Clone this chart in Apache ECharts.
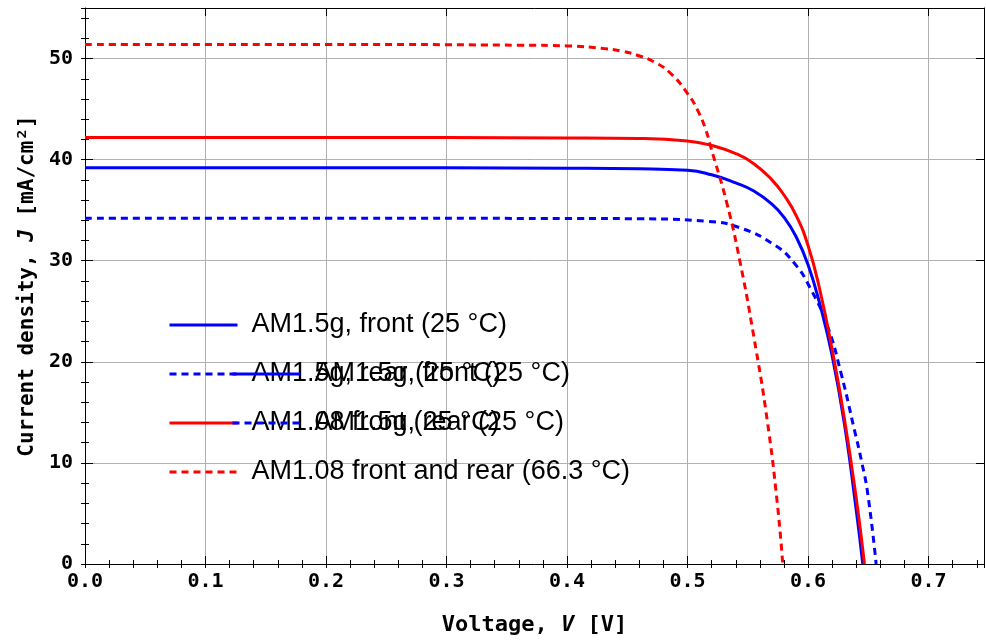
<!DOCTYPE html>
<html>
<head>
<meta charset="utf-8">
<script src="https://cdn.jsdelivr.net/npm/echarts@6/dist/echarts.min.js"></script>
<style>html,body{margin:0;padding:0;background:#fff}#c{width:986px;height:641px}</style>
</head>
<body>
<div id="c"></div>
<script>
// ---- data ----
const seriesNames = [
  'AM1.5g, front (25 °C)',
  'AM1.5g, rear (25 °C)',
  'AM1.08 front (25 °C)',
  'AM1.08 front and rear (66.3 °C)'
];
const vFront15 = [0, 0.2, 0.4, 0.46, 0.5, 0.52, 0.54, 0.555, 0.57, 0.58, 0.59, 0.6, 0.61, 0.62, 0.63, 0.64, 0.6454];
const jFront15 = [39.2, 39.2, 39.15, 39.1, 38.95, 38.5, 37.7, 36.9, 35.6, 34.3, 32.4, 29.6, 25.6, 20.6, 14.0, 5.3, 0];
const vRear15 = [0, 0.2, 0.4, 0.46, 0.5159, 0.5437, 0.5716, 0.5883, 0.6022, 0.6162, 0.6273, 0.6384, 0.6445, 0.6496, 0.6565];
const jRear15 = [34.2, 34.2, 34.18, 34.15, 33.9, 33.25, 31.6, 29.8, 27.2, 23.5, 18.9, 13.3, 10.1, 6.9, 0];
const vFront108 = [0, 0.2, 0.4, 0.46, 0.5, 0.52, 0.54, 0.555, 0.57, 0.58, 0.59, 0.6, 0.61, 0.62, 0.63, 0.64, 0.6468];
const jFront108 = [42.2, 42.2, 42.15, 42.1, 41.85, 41.4, 40.6, 39.6, 38.0, 36.5, 34.5, 31.5, 27.0, 21.2, 14.5, 6.5, 0];
const vHot108 = [0, 0.2, 0.3611, 0.4, 0.4306, 0.4444, 0.4583, 0.4722, 0.4861, 0.5, 0.5083, 0.5153, 0.5187, 0.5326, 0.5437, 0.5549, 0.566, 0.5744, 0.579];
const jHot108 = [51.4, 51.4, 51.32, 51.25, 50.99, 50.76, 50.33, 49.67, 48.52, 46.54, 44.9, 42.9, 41.48, 35.7, 29.8, 22.55, 14.3, 6.1, 0];
const xTicks = [0.0, 0.1, 0.2, 0.3, 0.4, 0.5, 0.6, 0.7];
const yTicks = [0, 10, 20, 30, 40, 50];

// ---- chart ----
const zip = (v, j) => v.map((x, i) => [x, j[i]]);
const X_MAX = 0.746, Y_MAX = 55;
const mono = '"DejaVu Sans Mono", monospace';
const lineDefs = [
  { v: vFront15, j: jFront15, color: '#0000ff', type: 'solid' },
  { v: vRear15, j: jRear15, color: '#0000ff', type: [7, 5] },
  { v: vFront108, j: jFront108, color: '#ff0000', type: 'solid' },
  { v: vHot108, j: jHot108, color: '#ff0000', type: [7, 5] }
];
const series = lineDefs.map((d, i) => ({
  name: seriesNames[i],
  type: 'line',
  xAxisIndex: 0, yAxisIndex: 0,
  data: zip(d.v, d.j),
  smooth: 0.5,
  symbol: 'none',
  color: d.color,
  lineStyle: { color: d.color, width: 3, type: d.type },
  z: 5
}));

const isTick = (val, arr) => arr.some(t => Math.abs(t - val) < 1e-6);
const baseAxis = {
  type: 'value', min: 0,
  axisLine: { show: true, onZero: false, lineStyle: { color: '#000', width: 1 } },
  axisLabel: { show: false },
  splitLine: { show: false },
  axisTick: { show: true, inside: true, length: 8, lineStyle: { color: '#000', width: 1 } }
};
const xMajor = (pos, labels, grid) => Object.assign({}, baseAxis, {
  position: pos, max: X_MAX, interval: 0.1,
  axisLabel: labels ? {
    show: true, margin: 8, color: '#000', fontFamily: mono, fontSize: 20, fontWeight: 'bold',
    showMaxLabel: false,
    formatter: v => isTick(v, xTicks) ? v.toFixed(1) : ''
  } : { show: false },
  splitLine: { show: grid, lineStyle: { color: '#b0b0b0', width: 1 } }
});
const xMinor = pos => Object.assign({}, baseAxis, {
  position: pos, max: X_MAX, interval: 0.02,
  axisLine: { show: false },
  axisTick: { show: true, inside: true, length: 4, lineStyle: { color: '#000', width: 1 } }
});
const yMajor = (pos, labels, grid) => Object.assign({}, baseAxis, {
  position: pos, max: Y_MAX, interval: 10,
  axisLabel: labels ? {
    show: true, margin: 12, color: '#000', fontFamily: mono, fontSize: 20, fontWeight: 'bold',
    showMaxLabel: false,
    formatter: v => isTick(v, yTicks) ? String(v) : ''
  } : { show: false },
  splitLine: { show: grid, lineStyle: { color: '#b0b0b0', width: 1 } }
});
const yMinor = pos => Object.assign({}, baseAxis, {
  position: pos, max: Y_MAX, interval: 2,
  axisLine: { show: false },
  axisTick: { show: true, inside: true, length: 4, lineStyle: { color: '#000', width: 1 } }
});

const xAxes = [xMajor('bottom', true, true), xMinor('bottom'), xMajor('top', false, false), xMinor('top')];
xAxes[0].name = 'Voltage, {i|V} [V]';
xAxes[0].nameLocation = 'middle';
xAxes[0].nameGap = 50;
xAxes[0].nameTextStyle = {
  fontFamily: mono, fontSize: 22, fontWeight: 'bold', color: '#000',
  rich: { i: { fontFamily: mono, fontSize: 22, fontWeight: 'bold', fontStyle: 'italic', color: '#000' } }
};
const yAxes = [yMajor('left', true, true), yMinor('left'), yMajor('right', false, false), yMinor('right')];
yAxes[0].name = 'Current density, {i|J} [mA/cm²]';
yAxes[0].nameLocation = 'middle';
yAxes[0].nameGap = 47;
yAxes[0].nameTextStyle = {
  fontFamily: mono, fontSize: 21, fontWeight: 'bold', color: '#000',
  rich: { i: { fontFamily: mono, fontSize: 21, fontWeight: 'bold', fontStyle: 'italic', color: '#000' } }
};

const legendBase = {
  orient: 'vertical', padding: 0, itemWidth: 68, itemHeight: 14, itemGap: 19,
  selectedMode: false,
  lineStyle: { width: 3 },
  itemStyle: { opacity: 0 },
  textStyle: { fontFamily: '"Liberation Sans", Arial, sans-serif', fontSize: 27, color: '#000', lineHeight: 30, padding: [0, 0, 0, 9] }
};

const option = {
  backgroundColor: '#fff',
  animation: false,
  grid: { left: 85, right: 2, top: 8, bottom: 77, containLabel: false, outerBoundsMode: 'none' },
  xAxis: xAxes,
  yAxis: yAxes,
  legend: [
    Object.assign({}, legendBase, { left: 168, top: 310, data: seriesNames.slice() }),
    Object.assign({}, legendBase, { left: 231, top: 359, data: seriesNames.slice(0, 2) })
  ],
  series: series
};
const chart = echarts.init(document.getElementById('c'), null, { renderer: 'canvas' });
chart.setOption(option);
</script>
</body>
</html>
